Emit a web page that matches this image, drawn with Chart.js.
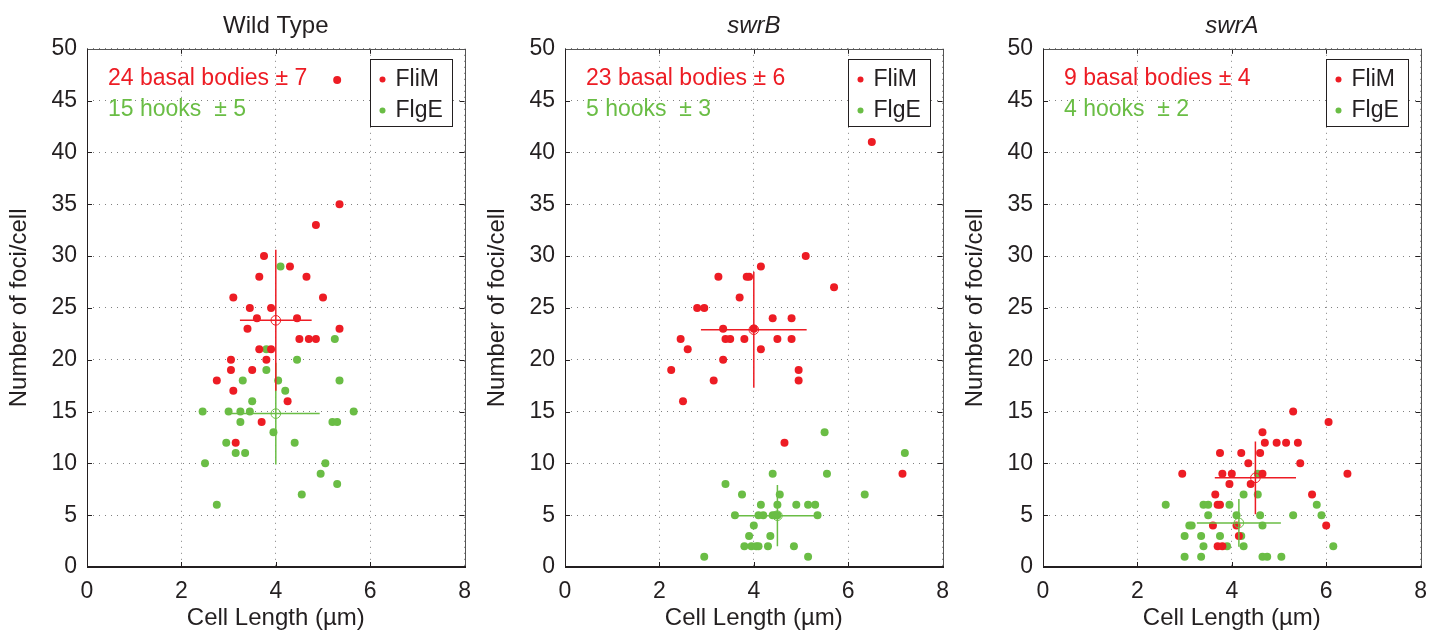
<!DOCTYPE html>
<html>
<head>
<meta charset="utf-8">
<script src="https://cdn.jsdelivr.net/npm/chart.js@4.4.1/dist/chart.umd.min.js"></script>
<style>
    html, body { margin: 0; padding: 0; background: #fff; }
    #wrap { position: relative; width: 1442px; height: 631px; overflow: hidden; }
    canvas { position: absolute; top: 0; }
</style>
</head>
<body>
<div id="wrap">
    <canvas id="wtChart" width="482" height="631" style="left:0px"></canvas>
    <canvas id="swrBChart" width="482" height="631" style="left:478px"></canvas>
    <canvas id="swrAChart" width="482" height="631" style="left:956px"></canvas>
</div>
<script>
// ---- data: [cell length µm, foci per cell] ----
const wtFliM = [[5.3,47],[5.35,35],[4.85,33],[3.75,30],[4.3,29],[3.65,28],[4.65,28],[3.1,26],[5.0,26],
    [3.45,25],[3.9,25],[3.6,24],[4.45,24],[3.4,23],[5.35,23],[4.5,22],[4.7,22],[4.85,22],[3.65,21],
    [3.9,21],[3.05,20],[3.8,20],[3.05,19],[3.5,19],[2.75,18],[3.1,17],[4.25,16],[3.7,14],[3.15,12]];
const wtFlgE = [[4.1,29],[5.25,22],[3.8,21],[4.45,20],[3.8,19],[3.3,18],[4.05,18],[5.35,18],[4.2,17],
    [3.5,16],[2.45,15],[3.0,15],[3.25,15],[3.45,15],[5.65,15],[3.25,14],[5.2,14],[5.3,14],[3.95,13],
    [2.95,12],[4.4,12],[3.15,11],[3.35,11],[2.5,10],[5.05,10],[4.95,9],[5.3,8],[4.55,7],[2.75,6]];

const swrBFliM = [[6.5,41],[5.1,30],[4.15,29],[3.25,28],[3.85,28],[3.9,28],[5.7,27],[3.7,26],[2.8,25],
    [2.95,25],[4.4,24],[4.8,24],[3.35,23],[4.0,23],[2.45,22],[3.4,22],[3.5,22],[3.8,22],[4.5,22],
    [4.8,22],[2.6,21],[4.15,21],[3.35,20],[2.25,19],[4.95,19],[3.15,18],[4.95,18],[2.5,16],[4.65,12],[7.15,9]];
const swrBFlgE = [[5.5,13],[7.2,11],[4.4,9],[5.55,9],[3.4,8],[6.35,7],[3.75,7],[4.55,7],[4.15,6],[4.5,6],
    [4.9,6],[5.15,6],[5.3,6],[3.6,5],[4.1,5],[4.2,5],[4.4,5],[4.45,5],[4.5,5],[5.35,5],[4.0,4],[3.9,3],
    [4.35,3],[3.8,2],[3.95,2],[4.05,2],[4.1,2],[4.3,2],[4.85,2],[2.95,1],[5.15,1]];

const swrAFliM = [[5.3,15],[6.05,14],[4.65,13],[4.7,12],[4.95,12],[5.15,12],[5.4,12],[3.75,11],[4.2,11],
    [4.6,11],[4.35,10],[5.45,10],[2.95,9],[3.8,9],[4.0,9],[4.65,9],[6.45,9],[3.95,8],[4.4,8],[3.65,7],
    [5.7,7],[3.7,6],[3.75,6],[6.0,4],[3.6,4],[4.1,4],[4.15,3],[3.7,2],[3.8,2]];
const swrAFlgE = [[2.6,6],[3.4,6],[3.5,6],[3.95,6],[4.25,7],[4.55,7],[5.8,6],[3.5,5],[4.1,5],[4.6,5],
    [5.3,5],[5.9,5],[3.1,4],[3.15,4],[4.65,4],[3.0,3],[3.35,3],[3.75,3],[4.2,3],[3.4,2],[3.9,2],[4.25,2],
    [6.15,2],[3.0,1],[3.35,1],[4.65,1],[4.75,1],[5.05,1],[4.55,9]];

// mean [x, y] and spread [x, y]
const wtMeanFliM = [4.0, 23.8], wtSdFliM = [0.76, 6.8];
const wtMeanFlgE = [4.0, 14.8], wtSdFlgE = [0.93, 4.9];
const swrBMeanFliM = [4.0, 22.9], swrBSdFliM = [1.12, 5.6];
const swrBMeanFlgE = [4.5, 4.95], swrBSdFlgE = [0.87, 2.95];
const swrAMeanFliM = [4.5, 8.6], swrASdFliM = [0.86, 3.5];
const swrAMeanFlgE = [4.15, 4.25], swrASdFlgE = [0.89, 2.3];

const xTicks = [0, 2, 4, 6, 8];
const yTicks = [0, 5, 10, 15, 20, 25, 30, 35, 40, 45, 50];
const seriesNames = ['FliM', 'FlgE'];

const RED = '#ed1c24';
const GREEN = '#6abd45';
const INK = '#231f20';
const FONT = '"Liberation Sans", Arial, Helvetica, sans-serif';

// frame, inner ticks, note text and boxed legend
const panelDecor = {
    id: 'panelDecor',
    afterDraw(chart, args, opts) {
        const { ctx, chartArea: a, scales: { x, y } } = chart;
        const line = (x1, y1, x2, y2) => { ctx.beginPath(); ctx.moveTo(x1, y1); ctx.lineTo(x2, y2); ctx.stroke(); };
        ctx.save();

        ctx.strokeStyle = INK;
        ctx.lineWidth = 1;
        xTicks.forEach((v) => {
            const px = Math.round(x.getPixelForValue(v)) + 0.5;
            line(px, a.bottom, px, a.bottom - 5);
            line(px, a.top, px, a.top + 5);
        });
        yTicks.forEach((v) => {
            const py = Math.round(y.getPixelForValue(v)) + 0.5;
            line(a.left, py, a.left + 5, py);
            line(a.right, py, a.right - 5, py);
        });

        const L = Math.round(a.left) + 0.5, R = Math.round(a.right) + 0.5;
        const T = Math.round(a.top) + 0.5, B = Math.round(a.bottom);
        ctx.strokeStyle = '#555';
        line(L, T, R, T);
        line(R, T, R, B);
        ctx.strokeStyle = INK;
        line(L, T, L, B);
        ctx.lineWidth = 2;
        line(L - 0.5, B, R + 0.5, B);

        // notes
        ctx.font = `23px ${FONT}`;
        ctx.textBaseline = 'middle';
        ctx.textAlign = 'left';
        opts.notes.forEach((n, i) => {
            ctx.fillStyle = i === 0 ? RED : GREEN;
            ctx.fillText(n, a.left + 21, a.top + (i === 0 ? 30 : 60.5));
        });

        // legend box
        const bw = 82, bh = 67;
        const bx = Math.round(a.right - 13 - bw) + 0.5, by = Math.round(a.top + 10) + 0.5;
        ctx.fillStyle = '#fff';
        ctx.fillRect(bx, by, bw, bh);
        ctx.lineWidth = 1;
        ctx.strokeStyle = INK;
        ctx.strokeRect(bx, by, bw, bh);
        seriesNames.forEach((name, i) => {
            const cy = by + 20 + i * 31;
            ctx.fillStyle = i === 0 ? RED : GREEN;
            ctx.beginPath();
            ctx.arc(bx + 12, cy, 3, 0, Math.PI * 2);
            ctx.fill();
            ctx.fillStyle = INK;
            ctx.fillText(name, bx + 25, cy);
        });
        ctx.restore();
    },
};

function toPoints(pairs) {
    return pairs.map(([x, y]) => ({ x, y }));
}

function errorBars(mean, sd, color, order) {
    const common = { showLine: true, pointRadius: 0, borderColor: color, borderWidth: 1.5, order };
    return [
        { ...common, data: [{ x: mean[0] - sd[0], y: mean[1] }, { x: mean[0] + sd[0], y: mean[1] }] },
        { ...common, data: [{ x: mean[0], y: mean[1] - sd[1] }, { x: mean[0], y: mean[1] + sd[1] }] },
    ];
}

function buildChart(canvasId, title, italic, fliM, flgE, meanFliM, sdFliM, meanFlgE, sdFlgE, notes) {
    const ctx = document.getElementById(canvasId).getContext('2d');
    return new Chart(ctx, {
        type: 'scatter',
        data: {
            datasets: [
                { label: 'FlgE', data: toPoints(flgE), backgroundColor: GREEN, borderWidth: 0, pointRadius: 4, order: 5 },
                { label: 'FliM', data: toPoints(fliM), backgroundColor: RED, borderWidth: 0, pointRadius: 4, order: 4 },
                ...errorBars(meanFlgE, sdFlgE, GREEN, 3),
                ...errorBars(meanFliM, sdFliM, RED, 2),
                { data: [{ x: meanFlgE[0], y: meanFlgE[1] }], pointRadius: 4.8, borderColor: GREEN, borderWidth: 1,
                  backgroundColor: 'rgba(0,0,0,0)', order: 1 },
                { data: [{ x: meanFliM[0], y: meanFliM[1] }], pointRadius: 4.8, borderColor: RED, borderWidth: 1,
                  backgroundColor: 'rgba(0,0,0,0)', order: 0 },
            ],
        },
        options: {
            responsive: false,
            animation: false,
            devicePixelRatio: 1,
            layout: { padding: { left: 0, right: 13, top: 0, bottom: 0 } },
            plugins: {
                legend: { display: false },
                tooltip: { enabled: false },
                title: {
                    display: true,
                    fullSize: false, // center over the plot area
                    text: title,
                    color: INK,
                    font: { family: FONT, size: 24, weight: 'normal', style: italic ? 'italic' : 'normal' },
                    padding: { top: 12, bottom: 8 },
                },
                panelDecor: { notes },
            },
            scales: {
                x: {
                    type: 'linear',
                    min: 0,
                    max: 8,
                    afterBuildTicks: (s) => { s.ticks = xTicks.map((v) => ({ value: v })); },
                    afterFit: (s) => { s.height = 64; },
                    ticks: { color: INK, font: { family: FONT, size: 23 }, padding: 11 },
                    grid: { color: '#808080', lineWidth: 1, drawTicks: false },
                    border: { display: false, dash: [1, 5] },
                    title: { display: true, text: 'Cell Length (µm)', color: INK,
                             font: { family: FONT, size: 24 }, padding: { top: 0, bottom: -2 } },
                },
                y: {
                    type: 'linear',
                    min: 0,
                    max: 50,
                    afterBuildTicks: (s) => { s.ticks = yTicks.map((v) => ({ value: v })); },
                    afterFit: (s) => { s.width = 87; },
                    ticks: { color: INK, font: { family: FONT, size: 23 }, padding: 10 },
                    grid: { color: '#808080', lineWidth: 1, drawTicks: false },
                    border: { display: false, dash: [1, 5] },
                    title: { display: true, text: 'Number of foci/cell', color: INK,
                             font: { family: FONT, size: 24 }, padding: { top: 5, bottom: 0 } },
                },
            },
        },
        plugins: [panelDecor],
    });
}

buildChart('wtChart', 'Wild Type', false, wtFliM, wtFlgE, wtMeanFliM, wtSdFliM, wtMeanFlgE, wtSdFlgE,
    ['24 basal bodies ± 7', '15 hooks  ± 5']);
buildChart('swrBChart', 'swrB', true, swrBFliM, swrBFlgE, swrBMeanFliM, swrBSdFliM, swrBMeanFlgE, swrBSdFlgE,
    ['23 basal bodies ± 6', '5 hooks  ± 3']);
buildChart('swrAChart', 'swrA', true, swrAFliM, swrAFlgE, swrAMeanFliM, swrASdFliM, swrAMeanFlgE, swrASdFlgE,
    ['9 basal bodies ± 4', '4 hooks  ± 2']);
</script>
</body>
</html>
